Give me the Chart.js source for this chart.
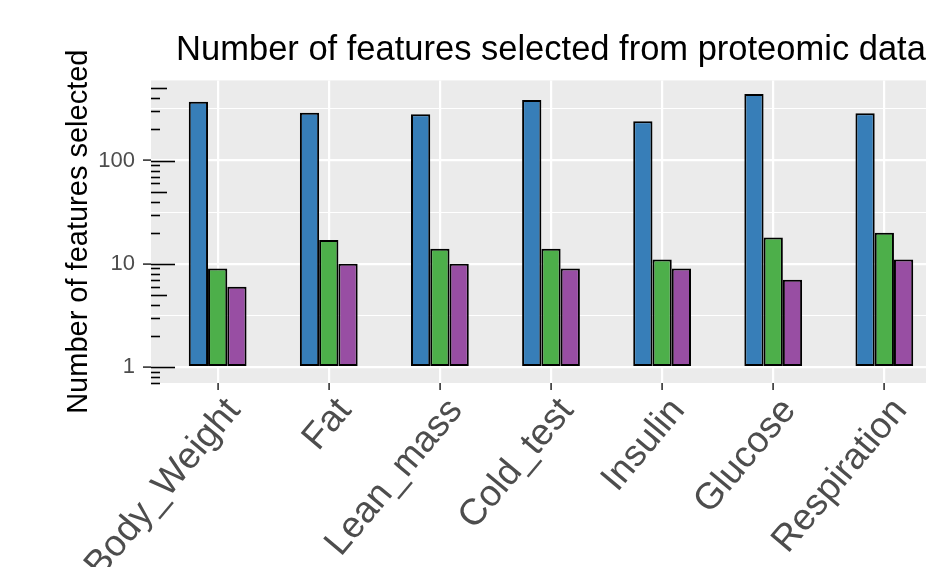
<!DOCTYPE html>
<html>
<head>
<meta charset="utf-8">
<title>Number of features selected from proteomic data</title>
<script src="https://cdn.jsdelivr.net/npm/chart.js@4.4.0/dist/chart.umd.min.js"></script>
<style>
  html, body { margin: 0; padding: 0; background: #fff; overflow: hidden; }
  #wrap { width: 960px; height: 567px; }
</style>
</head>
<body>
<div id="wrap"><canvas id="features-chart" width="960" height="567"></canvas></div>
<script>
// phenotypes and feature counts per selection method
const categories = ['Body_Weight', 'Fat', 'Lean_mass', 'Cold_test', 'Insulin', 'Glucose', 'Respiration'];
const blueCounts = [370, 290, 280, 385, 240, 440, 287];
const greenCounts = [9, 17, 14, 14, 11, 18, 20];
const purpleCounts = [6, 10, 10, 9, 9, 7, 11];
const yTickLabels = [1, 10, 100];

const FONT = "'Liberation Sans', Arial, Helvetica, sans-serif";

// minor grid lines sit halfway between decades (log midpoint)
const gridValues = [];
yTickLabels.forEach(v => { gridValues.push(v, v * Math.sqrt(10)); });
const isMajor = v => yTickLabels.includes(v);

function toPoints(arr) {
  return arr.map((v, i) => ({ x: i + 1, y: v }));
}

// grey panel behind everything
const panelBg = {
  id: 'panelBg',
  beforeDraw(chart) {
    const { ctx, chartArea: a } = chart;
    ctx.save();
    ctx.fillStyle = '#EBEBEB';
    ctx.fillRect(a.left, a.top, a.width, a.height);
    ctx.restore();
  }
};

// log tick marks along the inside of the left edge
const logTicks = {
  id: 'logTicks',
  afterDatasetsDraw(chart) {
    const { ctx, chartArea: a } = chart;
    const y = chart.scales.y;
    ctx.save();
    ctx.strokeStyle = '#000';
    ctx.lineWidth = 1.6;
    for (let d = -1; d <= 3; d++) {
      for (let k = 1; k <= 9; k++) {
        const v = k * Math.pow(10, d);
        if (v < y.min || v > y.max) continue;
        const len = k === 1 ? 24 : (k === 5 ? 16 : 9);
        const py = Math.round(y.getPixelForValue(v)) + 0.5;
        ctx.beginPath();
        ctx.moveTo(a.left, py);
        ctx.lineTo(a.left + len, py);
        ctx.stroke();
      }
    }
    ctx.restore();
  }
};

const ctx = document.getElementById('features-chart').getContext('2d');

const barStyle = {
  borderColor: '#000',
  borderWidth: 2,
  borderSkipped: false,
  base: 1,
  categoryPercentage: 0.52,
  barPercentage: 1.0
};

const chart = new Chart(ctx, {
  type: 'bar',
  data: {
    datasets: [
      Object.assign({ data: toPoints(blueCounts), backgroundColor: '#377EB8' }, barStyle),
      Object.assign({ data: toPoints(greenCounts), backgroundColor: '#4DAF4A' }, barStyle),
      Object.assign({ data: toPoints(purpleCounts), backgroundColor: '#984EA3' }, barStyle)
    ]
  },
  options: {
    responsive: false,
    animation: false,
    devicePixelRatio: 1,
    layout: { padding: { left: 0, right: 9, top: 0, bottom: 0 } },
    plugins: {
      legend: { display: false },
      tooltip: { enabled: false },
      title: {
        display: true,
        fullSize: false,
        text: 'Number of features selected from proteomic data',
        color: '#000',
        font: { family: FONT, size: 34.5, weight: 'normal', lineHeight: 1.2 },
        padding: { top: 30, bottom: 9 }
      }
    },
    scales: {
      x: {
        type: 'linear',
        min: 0.4,
        max: 7.6,
        offset: false,
        border: { display: false },
        afterBuildTicks: s => { s.ticks = categories.map((c, i) => ({ value: i + 1 })); },
        afterFit: s => { s.height = 184; },
        grid: {
          offset: false,
          color: '#FFFFFF',
          lineWidth: 2.2,
          tickColor: '#333333',
          tickLength: 7,
          tickWidth: 1.6
        },
        ticks: {
          autoSkip: false,
          minRotation: 50,
          maxRotation: 50,
          padding: 0,
          labelOffset: 16,
          color: '#4D4D4D',
          font: { family: FONT, size: 37 },
          callback: v => categories[v - 1]
        }
      },
      y: {
        type: 'logarithmic',
        min: 0.738,
        max: 597,
        border: { display: false },
        afterBuildTicks: s => { s.ticks = gridValues.map(v => ({ value: v })); },
        afterFit: s => { s.width = 151; },
        grid: {
          color: '#FFFFFF',
          lineWidth: c => (c.tick && isMajor(c.tick.value) ? 2.2 : 1.1),
          tickColor: c => (c.tick && isMajor(c.tick.value) ? '#333333' : 'rgba(0,0,0,0)'),
          tickLength: 8,
          tickWidth: 1.6
        },
        ticks: {
          padding: 8,
          color: '#4D4D4D',
          font: { family: FONT, size: 22 },
          callback: v => (isMajor(v) ? String(v) : '')
        },
        title: {
          display: true,
          text: 'Number of features selected',
          color: '#000',
          font: { family: FONT, size: 29, lineHeight: 1.2 },
          padding: { top: 62, bottom: 0 }
        }
      }
    }
  },
  plugins: [panelBg, logTicks]
});
</script>
</body>
</html>
